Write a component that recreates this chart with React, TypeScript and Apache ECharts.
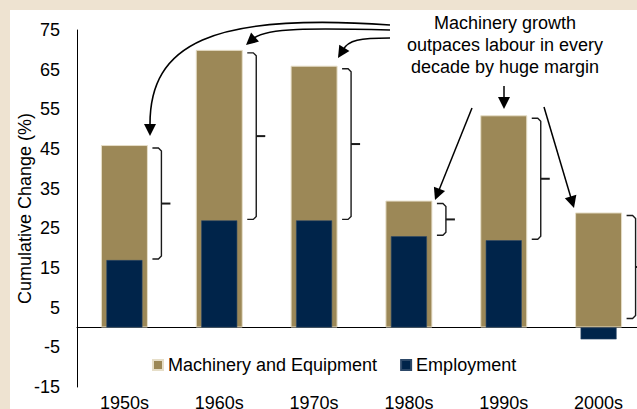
import React, { useEffect, useRef } from "react";
import * as echarts from "echarts";

const categories = ["1950s", "1960s", "1970s", "1980s", "1990s", "2000s"];
const machinery = [46, 70, 66, 32, 53.5, 29];
const employment = [17, 27, 27, 23, 22, -3];
const bracketLow = [17, 27, 27, 23, 22, 2];
const yMin = -15;
const yMax = 75;
const yStep = 10;
const annotationLines = ["Machinery growth", "outpaces labour in every", "decade by huge margin"];

const FONT = "'Liberation Sans', Arial, sans-serif";

function head(tip: number[], from: number[], len = 12, w = 12) {
  const dx = tip[0] - from[0];
  const dy = tip[1] - from[1];
  const d = Math.sqrt(dx * dx + dy * dy);
  const ux = dx / d;
  const uy = dy / d;
  const bx = tip[0] - ux * len;
  const by = tip[1] - uy * len;
  return {
    type: "polygon",
    shape: {
      points: [
        tip,
        [bx - uy * (w / 2), by + ux * (w / 2)],
        [bx + uy * (w / 2), by - ux * (w / 2)],
      ],
    },
    style: { fill: "#000" },
    z: 20,
  };
}

function straightArrow(from: number[], tip: number[]) {
  const dx = tip[0] - from[0];
  const dy = tip[1] - from[1];
  const d = Math.sqrt(dx * dx + dy * dy);
  const end = [tip[0] - (dx / d) * 10, tip[1] - (dy / d) * 10];
  return [
    {
      type: "line",
      shape: { x1: from[0], y1: from[1], x2: end[0], y2: end[1] },
      style: { stroke: "#000", lineWidth: 1.5 },
      z: 20,
    },
    head(tip, from),
  ];
}

function curveArrow(p0: number[], c1: number[], c2: number[], p3: number[], tip: number[]) {
  return [
    {
      type: "bezierCurve",
      shape: {
        x1: p0[0], y1: p0[1],
        cpx1: c1[0], cpy1: c1[1],
        cpx2: c2[0], cpy2: c2[1],
        x2: p3[0], y2: p3[1],
      },
      style: { stroke: "#000", lineWidth: 1.6, fill: "none" },
      z: 20,
    },
    head(tip, p3),
  ];
}

export default function App() {
  const ref = useRef<HTMLDivElement>(null);

  useEffect(() => {
    if (!ref.current) return;
    const chart = echarts.init(ref.current, null, { renderer: "svg" });

    const graphics: any[] = [
      { type: "rect", shape: { x: 0, y: 0, width: 637, height: 10 }, style: { fill: "#EEE3D1" }, z: 0 },
      { type: "rect", shape: { x: 0, y: 0, width: 10, height: 409 }, style: { fill: "#EEE3D1" }, z: 0 },
      {
        type: "text",
        x: 505,
        y: 12,
        style: {
          text: annotationLines.join("\n"),
          fontSize: 18,
          lineHeight: 22,
          fontFamily: FONT,
          fill: "#000",
          textAlign: "center",
          textVerticalAlign: "top",
        },
        z: 20,
      },
      ...curveArrow([390, 25], [210, 12], [150, 45], [150, 124], [150, 136]),
      ...curveArrow([390, 30], [310, 28], [268, 28], [254, 38], [246, 45]),
      ...curveArrow([390, 38], [360, 38], [348, 40], [343, 50], [338, 58]),
      ...straightArrow([472, 108], [435, 200]),
      ...straightArrow([504, 86], [504, 109]),
      ...straightArrow([544, 107], [574, 208]),
    ];

    chart.setOption({
      animation: false,
      backgroundColor: "#fff",
      textStyle: { fontFamily: FONT },
      grid: {
        left: 77,
        top: 30,
        width: 569,
        height: 357,
        containLabel: false,
        outerBoundsMode: "none",
      },
      legend: {
        left: 152,
        top: 356,
        icon: "rect",
        itemWidth: 10,
        itemHeight: 10,
        itemGap: 23,
        padding: 0,
        textStyle: { fontSize: 18, color: "#000", fontFamily: FONT },
        data: ["Machinery and Equipment", "Employment"],
      },
      xAxis: [
        {
          type: "category",
          data: categories,
          position: "bottom",
          axisLine: { show: false, onZero: false },
          axisTick: { show: false },
          axisLabel: { fontSize: 18, color: "#000", margin: 7, interval: 0, fontFamily: FONT },
          splitLine: { show: false },
        },
        {
          type: "category",
          data: categories,
          position: "bottom",
          axisLine: { show: true, onZero: true, lineStyle: { color: "#000", width: 1 } },
          axisTick: { show: false },
          axisLabel: { show: false },
          splitLine: { show: false },
        },
      ],
      yAxis: {
        type: "value",
        min: yMin,
        max: yMax,
        interval: yStep,
        axisLine: { show: true, lineStyle: { color: "#000", width: 1 } },
        axisTick: { show: false },
        splitLine: { show: false },
        axisLabel: { fontSize: 18, color: "#000", margin: 17, fontFamily: FONT },
        name: "Cumulative Change (%)",
        nameLocation: "middle",
        nameGap: 43,
        nameMoveOverlap: false,
        nameTextStyle: { fontSize: 18, color: "#000", fontFamily: FONT },
      },
      series: [
        {
          name: "Machinery and Equipment",
          type: "bar",
          xAxisIndex: 0,
          data: machinery,
          barWidth: 47,
          itemStyle: { color: "#9C8857", borderColor: "#E6DEC8", borderWidth: 1 },
          z: 2,
        },
        {
          name: "Employment",
          type: "bar",
          xAxisIndex: 1,
          data: employment,
          barWidth: 36,
          itemStyle: { color: "#00244A", borderColor: "#2C4868", borderWidth: 0.6 },
          z: 3,
        },
        {
          type: "custom",
          xAxisIndex: 0,
          silent: true,
          z: 4,
          data: categories.map((c, i) => [i, machinery[i], bracketLow[i]]),
          renderItem: (params: any, api: any) => {
            const i = api.value(0);
            const top = api.coord([i, api.value(1)]);
            const bot = api.coord([i, api.value(2)]);
            const cx = top[0];
            const yt = top[1] + 3;
            const yb = bot[1] - 1;
            const ym = (yt + yb) / 2;
            return {
              type: "group",
              children: [
                {
                  type: "polyline",
                  shape: {
                    points: [
                      [cx + 28, yt],
                      [cx + 34, yt],
                      [cx + 37, yt + 3],
                      [cx + 37, yb - 3],
                      [cx + 34, yb],
                      [cx + 28, yb],
                    ],
                  },
                  style: { stroke: "#1a1a1a", lineWidth: 1.4, fill: "none" },
                },
                {
                  type: "line",
                  shape: { x1: cx + 37, y1: ym, x2: cx + 46, y2: ym },
                  style: { stroke: "#1a1a1a", lineWidth: 2 },
                },
              ],
            };
          },
        },
      ],
      graphic: graphics,
    });

    return () => chart.dispose();
  }, []);

  return (
    <div
      ref={ref}
      style={{ position: "absolute", left: 0, top: 0, width: 637, height: 409 }}
    />
  );
}
